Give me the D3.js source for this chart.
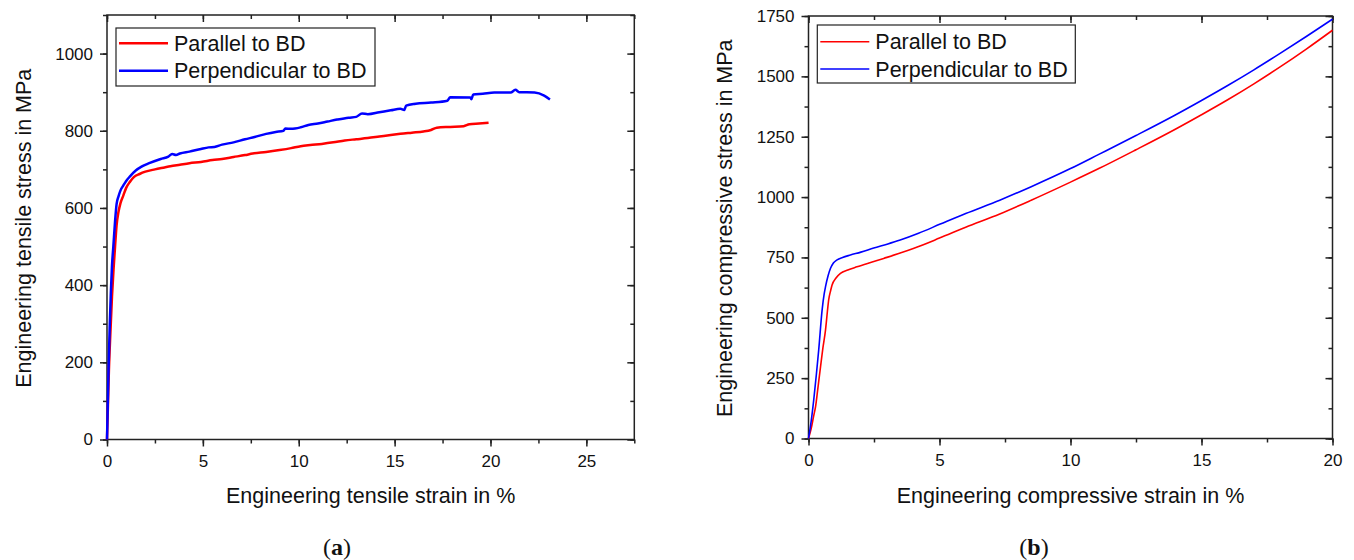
<!DOCTYPE html>
<html>
<head>
<meta charset="utf-8">
<script src="https://cdn.jsdelivr.net/npm/d3@7"></script>
<style>
  body { margin: 0; background: #fff; }
  svg text { font-family: "Liberation Sans", Arial, sans-serif; fill: #111; }
</style>
</head>
<body>
<div id="chart"></div>
<script>
// series values: [strain %, stress MPa]
const tensileParallel = [
  [0,0],[0.05,90],[0.1,180],[0.18,280],[0.26,370],[0.34,440],[0.42,500],[0.5,555],[0.6,590],
  [0.7,612],[0.85,632],[1.0,652],[1.2,668],[1.4,680],[1.7,688],[2.0,694],[2.5,700],[3.0,705],
  [3.3,708],[3.8,712],[4.3,716],[4.9,719],[5.5,724],[6.0,727],[6.6,732],[7.2,737],[7.6,741],
  [8.3,745],[9.0,750],[9.6,755],[10.1,760],[10.6,763],[11.2,766],[11.8,770],[12.4,775],[13.0,778],
  [13.6,781],[14.2,785],[14.8,789],[15.3,792],[15.9,795],[16.5,798],[16.9,802],[17.2,808],
  [17.9,810],[18.6,812],[18.9,817],[19.4,819],[19.9,821]
];
const tensilePerpendicular = [
  [0,0],[0.04,90],[0.08,180],[0.14,290],[0.2,380],[0.26,450],[0.33,500],[0.42,565],[0.5,610],
  [0.6,630],[0.7,645],[0.85,658],[1.0,670],[1.2,682],[1.5,697],[1.8,707],[2.2,716],[2.8,727],
  [3.2,733],[3.4,740],[3.6,737],[3.8,741],[4.3,746],[4.9,753],[5.3,757],[5.6,758],[6.0,764],
  [6.6,770],[7.2,778],[7.7,784],[8.3,792],[8.8,797],[9.2,800],[9.3,806],[9.6,805],[10.1,809],
  [10.5,815],[11.0,819],[11.5,824],[12.0,829],[12.6,834],[13.0,836],[13.3,845],[13.6,843],
  [14.2,848],[14.8,853],[15.3,857],[15.5,854],[15.6,865],[16.1,870],[16.9,873],[17.75,878],
  [17.9,887],[18.95,886],[19.0,882],[19.1,894],[19.6,896],[20.2,899],[21.05,899],[21.3,906],
  [21.5,900],[22.3,899],[22.8,891],[23.1,881]
];
const compParallel = [
  [0,0],[0.1,40],[0.2,95],[0.27,132],[0.36,210],[0.46,298],[0.55,375],[0.65,450],[0.72,525],
  [0.77,574],[0.85,615],[0.9,636],[1.05,665],[1.22,684],[1.5,698],[1.85,711],[2.4,730],
  [2.87,746],[3.5,768],[4.0,787],[5.0,830],[6.0,875],[7.3,930],[8.5,987],[10,1062],[11.1,1119],
  [12.5,1196],[14,1281],[15,1341],[16,1403],[17,1469],[18,1539],[19,1613],[20,1691]
];
const compPerpendicular = [
  [0,0],[0.1,70],[0.2,160],[0.3,265],[0.39,367],[0.52,533],[0.6,600],[0.65,629],[0.75,675],
  [0.84,705],[0.95,727],[1.09,740],[1.3,750],[1.6,760],[2.0,772],[2.49,789],[3.0,805],[3.5,822],
  [4.2,850],[5.03,888],[6.0,932],[7.3,987],[8.5,1043],[10,1118],[11.1,1178],[12.5,1255],
  [14,1340],[15,1400],[16,1462],[17,1527],[18,1595],[19,1665],[20,1737]
];

const seriesNames = ["Parallel to BD", "Perpendicular to BD"];
const seriesColors = ["#ff0000", "#0000ff"];

const tensileXTicks = [0, 5, 10, 15, 20, 25];
const tensileYTicks = [0, 200, 400, 600, 800, 1000];
const compXTicks = [0, 5, 10, 15, 20];
const compYTicks = [0, 250, 500, 750, 1000, 1250, 1500, 1750];

const W = 1354, H = 560;
const svg = d3.select('#chart').append('svg')
    .attr('width', W)
    .attr('height', H);

function drawPanel(p){
    let x = d3.scaleLinear().domain(p.xDomain).range([p.left, p.right]);
    let y = d3.scaleLinear().domain(p.yDomain).range([p.bottom, p.top]);
    let g = svg.append('g');

    let minorX = d3.range(p.xDomain[0], p.xDomain[1] + 1e-9, p.xMinor);
    let minorY = d3.range(p.yDomain[0], p.yDomain[1] + 1e-9, p.yMinor);

    //outward ticks on bottom and left
    let axes = [
        {ax: d3.axisBottom(x).tickValues(minorX).tickSize(4).tickFormat(''), t: `translate(0,${p.bottom})`},
        {ax: d3.axisBottom(x).tickValues(p.xTicks).tickSize(7).tickPadding(8).tickFormat(d3.format('d')), t: `translate(0,${p.bottom})`},
        {ax: d3.axisLeft(y).tickValues(minorY).tickSize(4).tickFormat(''), t: `translate(${p.left},0)`},
        {ax: d3.axisLeft(y).tickValues(p.yTicks).tickSize(7).tickPadding(7).tickFormat(d3.format('d')), t: `translate(${p.left},0)`},
        //inward mirror ticks on top and right
        {ax: d3.axisTop(x).tickValues(minorX).tickSize(-4).tickFormat(''), t: `translate(0,${p.top})`},
        {ax: d3.axisTop(x).tickValues(p.xTicks).tickSize(-7).tickFormat(''), t: `translate(0,${p.top})`},
        {ax: d3.axisRight(y).tickValues(minorY).tickSize(-4).tickFormat(''), t: `translate(${p.right},0)`},
        {ax: d3.axisRight(y).tickValues(p.yTicks).tickSize(-7).tickFormat(''), t: `translate(${p.right},0)`}
    ];
    axes.forEach(a => {
        let ag = g.append('g').attr('transform', a.t).call(a.ax);
        ag.select('.domain').remove();
        ag.selectAll('line').attr('stroke', '#222').attr('stroke-width', 1.5);
        ag.selectAll('text')
            .style('font-family', '"Liberation Sans", Arial, sans-serif')
            .style('font-size', '17px')
            .attr('fill', '#111');
    });

    //frame
    g.append('rect')
        .attr('x', p.left).attr('y', p.top)
        .attr('width', p.right - p.left).attr('height', p.bottom - p.top)
        .attr('fill', 'none').attr('stroke', '#222').attr('stroke-width', 1.5);

    //curves
    let line = d3.line().x(d => x(d[0])).y(d => y(d[1])).curve(d3.curveMonotoneX);
    p.series.forEach((s, i) => {
        g.append('path')
            .attr('d', line(s))
            .attr('fill', 'none')
            .attr('stroke', seriesColors[i])
            .attr('stroke-width', p.lineWidth)
            .attr('stroke-linejoin', 'round');
    });

    //legend
    let L = p.legend;
    g.append('rect')
        .attr('x', L.x).attr('y', L.y)
        .attr('width', L.w).attr('height', L.h)
        .attr('fill', '#fff').attr('stroke', '#222').attr('stroke-width', 1.2);
    seriesNames.forEach((name, i) => {
        let cy = L.rows[i];
        g.append('line')
            .attr('x1', L.x + 3).attr('x2', L.x + 52)
            .attr('y1', cy).attr('y2', cy)
            .attr('stroke', seriesColors[i]).attr('stroke-width', p.lineWidth);
        g.append('text')
            .attr('x', L.x + 58).attr('y', cy + 7.5)
            .style('font-size', '21.5px')
            .text(name);
    });

    //axis titles
    g.append('text')
        .attr('x', (p.left + p.right) / 2).attr('y', 503)
        .attr('text-anchor', 'middle')
        .style('font-size', '21.5px')
        .text(p.xTitle);
    g.append('text')
        .attr('transform', `translate(${p.yTitleX},${(p.top + p.bottom) / 2 + 1}) rotate(-90)`)
        .attr('text-anchor', 'middle')
        .style('font-size', '21.5px')
        .text(p.yTitle);

    //panel label
    let lab = svg.append('text')
        .attr('x', p.labelX).attr('y', 555)
        .attr('text-anchor', 'middle')
        .style('font-family', '"Liberation Serif", "DejaVu Serif", serif')
        .style('font-size', '24px');
    lab.append('tspan').text('(');
    lab.append('tspan').style('font-weight', 'bold').text(p.label);
    lab.append('tspan').text(')');
}

drawPanel({
    left: 107, right: 634.3, top: 15, bottom: 439.5,
    xDomain: [0, 27.5], yDomain: [0, 1100],
    xTicks: tensileXTicks, yTicks: tensileYTicks, xMinor: 2.5, yMinor: 100,
    series: [tensileParallel, tensilePerpendicular],
    lineWidth: 2.5,
    legend: {x: 116, y: 28, w: 259, h: 58, rows: [43.3, 70.7]},
    xTitle: 'Engineering tensile strain in %',
    yTitle: 'Engineering tensile stress in MPa',
    yTitleX: 30.5,
    label: 'a', labelX: 337
});

drawPanel({
    left: 808.5, right: 1332.5, top: 16, bottom: 438.5,
    xDomain: [0, 20], yDomain: [0, 1750],
    xTicks: compXTicks, yTicks: compYTicks, xMinor: 2.5, yMinor: 125,
    series: [compParallel, compPerpendicular],
    lineWidth: 1.6,
    legend: {x: 817.3, y: 25, w: 258, h: 58, rows: [41.7, 69]},
    xTitle: 'Engineering compressive strain in %',
    yTitle: 'Engineering compressive stress in MPa',
    yTitleX: 731.7,
    label: 'b', labelX: 1034
});
</script>
</body>
</html>
